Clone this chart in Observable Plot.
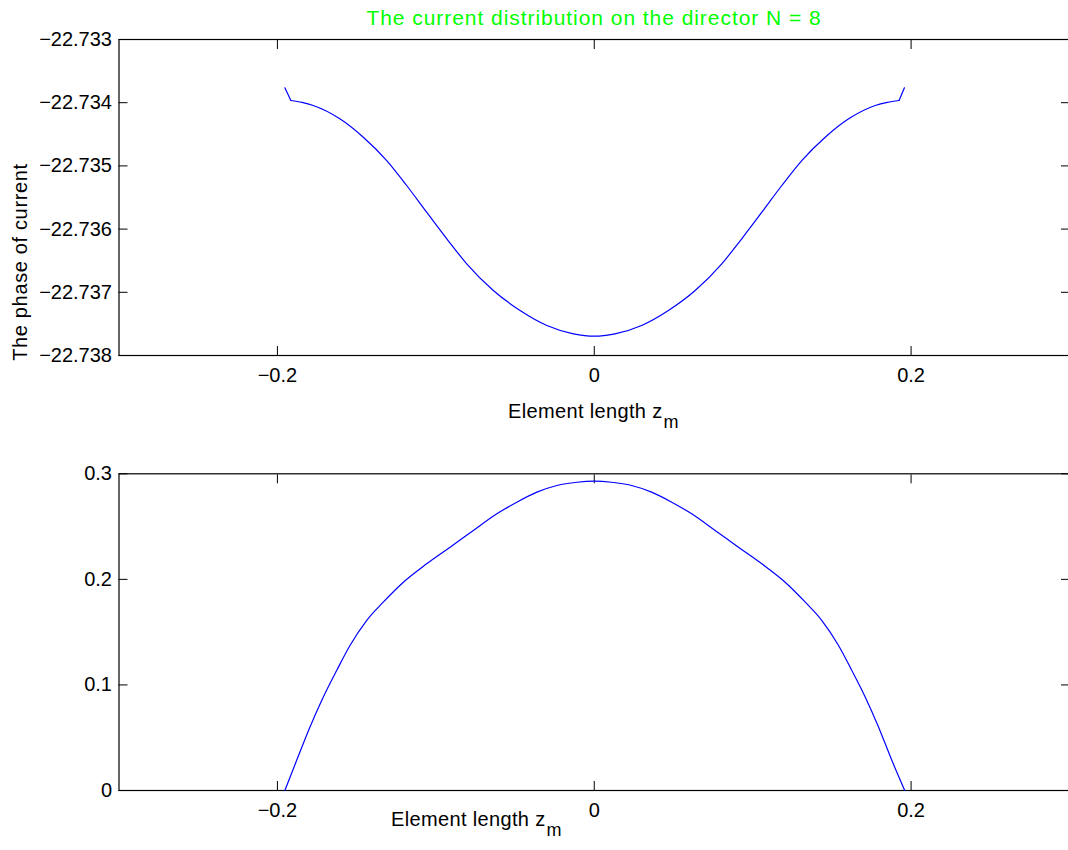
<!DOCTYPE html>
<html>
<head>
<meta charset="utf-8">
<script src="https://cdn.jsdelivr.net/npm/d3@7"></script>
<script src="https://cdn.jsdelivr.net/npm/@observablehq/plot@0.6"></script>
<style>
  html, body { margin: 0; padding: 0; background: #fff; }
  #wrap { position: relative; width: 1068px; height: 850px; overflow: hidden; font-family: "Liberation Sans", Arial, sans-serif; color: #000; }
  .abs { position: absolute; white-space: nowrap; font-size: 20px; line-height: 20px; }
  .sub { font-size: 18px; position: relative; top: 10px; margin-left: 1px; }
  svg { position: absolute; left: 0; overflow: visible; }
</style>
</head>
<body>
<div id="wrap">
  <div class="abs" id="title" style="left:0;width:1188px;text-align:center;top:8px;color:#00ff00;font-size:21px;letter-spacing:0.95px;">The current distribution on the director N = 8</div>
  <div class="abs" id="ylab" style="left:20px;top:262px;transform:translate(-50%,-50%) rotate(-90deg);letter-spacing:0.65px;">The phase of current</div>
  <div class="abs" id="xlab1" style="left:508px;top:401px;letter-spacing:0.35px;">Element length z<span class="sub">m</span></div>
  <div class="abs" id="xlab2" style="left:391px;top:809px;letter-spacing:0.35px;">Element length z<span class="sub">m</span></div>
</div>
<script>
// ---- data ----
const xTicks = [-0.2, 0, 0.2];
const phaseTicks = [-22.738, -22.737, -22.736, -22.735, -22.734, -22.733];
const ampTicks = [0, 0.1, 0.2, 0.3];

const zPhase = [-0.1953, -0.1915, -0.1845, -0.1774, -0.1606, -0.1458, -0.1310, -0.1184, -0.1058, -0.0931, -0.0805, -0.0637, -0.0468, -0.0299, -0.0131, 0,
  0.0131, 0.0299, 0.0468, 0.0637, 0.0805, 0.0931, 0.1058, 0.1184, 0.1310, 0.1458, 0.1606, 0.1774, 0.1850, 0.1924, 0.1958];
const phase = [-22.733764, -22.733965, -22.733995, -22.734044, -22.734255, -22.734546, -22.734915, -22.735310, -22.735733, -22.736153, -22.736549, -22.736972, -22.737288, -22.737525, -22.737657, -22.737695,
  -22.737657, -22.737525, -22.737288, -22.736972, -22.736549, -22.736153, -22.735733, -22.735310, -22.734915, -22.734546, -22.734255, -22.734044, -22.733995, -22.733965, -22.733764];

const zAmp = [-0.1953, -0.1879, -0.1795, -0.1711, -0.1626, -0.1542, -0.1437, -0.1332, -0.1205, -0.1058, -0.0910, -0.0763, -0.0615, -0.0489, -0.0362, -0.0236, -0.0109, 0,
  0.0109, 0.0236, 0.0362, 0.0489, 0.0615, 0.0763, 0.0910, 0.1058, 0.1205, 0.1332, 0.1437, 0.1542, 0.1626, 0.1711, 0.1795, 0.1879, 0.1960];
const amp = [0, 0.0284, 0.0600, 0.0884, 0.1137, 0.1374, 0.1610, 0.1784, 0.1973, 0.2147, 0.2305, 0.2463, 0.2621, 0.2731, 0.2826, 0.2889, 0.2920, 0.2930,
  0.2920, 0.2889, 0.2826, 0.2731, 0.2621, 0.2463, 0.2305, 0.2147, 0.1973, 0.1784, 0.1610, 0.1374, 0.1137, 0.0884, 0.0600, 0.0284, 0];

const phaseData = zPhase.map((z, i) => ({z, v: phase[i]}));
const ampData = zAmp.map((z, i) => ({z, v: amp[i]}));

const xFmt = d3.format("~g");
const style = {fontFamily: "Liberation Sans, Arial, sans-serif", fontSize: "20px", background: "white", color: "black"};
const lineOpts = {x: "z", y: "v", stroke: "#0000ff", strokeWidth: 1.2};

function panel(lineMarks, yDomain, yTicks, yFmt, height, mTop, mBottom) {
  return Plot.plot({
    width: 1068,
    height,
    marginTop: mTop,
    marginBottom: mBottom,
    marginLeft: 118.5,
    marginRight: -1,
    style,
    x: {domain: [-0.3, 0.3]},
    y: {domain: yDomain},
    marks: [
      Plot.frame({stroke: "black", strokeWidth: 1.2}),
      Plot.axisX({anchor: "bottom", ticks: xTicks, tickSize: -9, tickPadding: 21, tickFormat: xFmt, label: null}),
      Plot.axisX({anchor: "top", ticks: xTicks, tickSize: -9, fill: "none", label: null}),
      Plot.axisY({anchor: "left", ticks: yTicks, tickSize: -9, tickPadding: 16, tickFormat: yFmt, label: null}),
      Plot.axisY({anchor: "right", ticks: yTicks, tickSize: -9, fill: "none", label: null}),
      ...lineMarks
    ]
  });
}

const n = phaseData.length;
const p1 = panel([
  Plot.line(phaseData.slice(0, 2), {...lineOpts, curve: "linear"}),
  Plot.line(phaseData.slice(1, n - 1), {...lineOpts, curve: "monotone-x"}),
  Plot.line(phaseData.slice(n - 2), {...lineOpts, curve: "linear"})
], [-22.738, -22.733], phaseTicks, d3.format(".3f"), 440, 39, 85);
p1.style.top = "0px";
const p2 = panel([
  Plot.line(ampData, {...lineOpts, curve: "monotone-x"})
], [0, 0.3], ampTicks, d3.format("~g"), 410, 33.3, 60);
p2.style.top = "440px";

const wrap = document.getElementById("wrap");
wrap.insertBefore(p2, wrap.firstChild);
wrap.insertBefore(p1, wrap.firstChild);
</script>
</body>
</html>
